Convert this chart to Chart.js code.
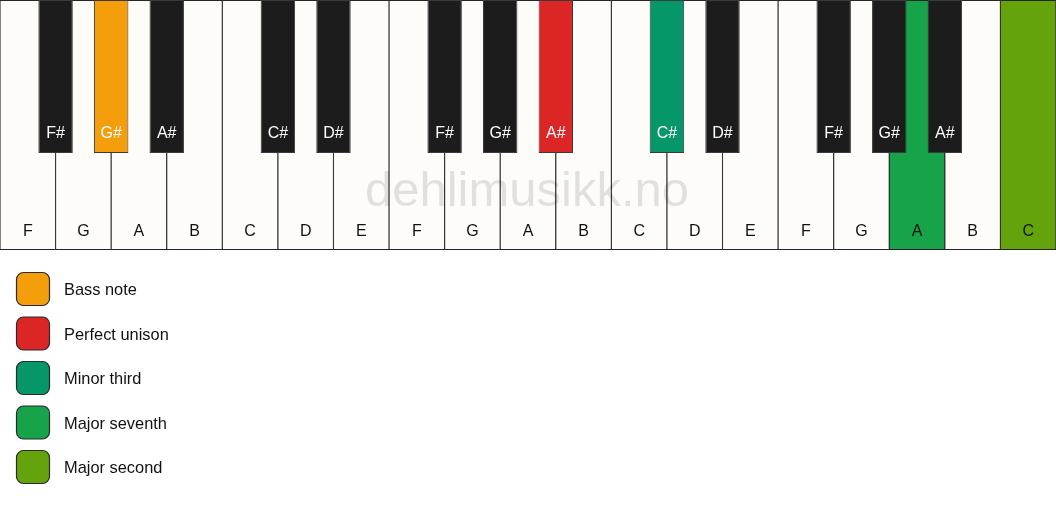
<!DOCTYPE html>
<html>
<head>
<meta charset="utf-8">
<script src="https://cdn.jsdelivr.net/npm/chart.js@4"></script>
<style>
  html, body { margin:0; padding:0; background:#ffffff; }
  #piano { display:block; }
</style>
</head>
<body>
<canvas id="piano" width="1056" height="506"></canvas>
<script>
// keys, left to right
const whiteNotes = ['F','G','A','B','C','D','E','F','G','A','B','C','D','E','F','G','A','B','C'];
const blackNotes = ['F#','G#','A#','C#','D#','F#','G#','A#','C#','D#','F#','G#','A#'];
const blackPositions = [1,2,3,5,6,8,9,10,12,13,15,16,17]; // boundary between white keys

// highlighted notes (legend order)
const intervalNames = ['Bass note','Perfect unison','Minor third','Major seventh','Major second'];
const intervalColors = ['#f59e0b','#dc2626','#059669','#16a34a','#65a30d'];
const intervalKind = ['black','black','black','white','white'];
const intervalIndex = [1,7,8,16,18];

const WHITE = '#fdfcf9', BLACK = '#1c1c1c';
const KEY_LEN = 250, BLACK_LEN = 153;

const whiteFill = whiteNotes.map((n,i)=>{
  const k = intervalKind.findIndex((t,j)=>t==='white' && intervalIndex[j]===i);
  return k>=0 ? intervalColors[k] : WHITE;
});
const blackFill = blackNotes.map((n,i)=>{
  const k = intervalKind.findIndex((t,j)=>t==='black' && intervalIndex[j]===i);
  return k>=0 ? intervalColors[k] : BLACK;
});

const font = '"Liberation Sans", Arial, sans-serif';

// key names + watermark
const keyLabels = {
  id:'keyLabels',
  afterDatasetsDraw(chart){
    const ctx = chart.ctx;
    const xw = chart.scales.xw, xb = chart.scales.xb, y = chart.scales.y;
    ctx.save();
    ctx.font = '49px ' + font;
    ctx.fillStyle = 'rgba(0,0,0,0.11)';
    ctx.textAlign = 'center';
    ctx.textBaseline = 'middle';
    ctx.fillText('dehlimusikk.no', chart.width/2 - 1, 192);

    ctx.font = '16px ' + font;
    ctx.fillStyle = '#111';
    whiteNotes.forEach((n,i)=> ctx.fillText(n, xw.getPixelForValue(i+0.5), y.getPixelForValue(232)));
    ctx.fillStyle = '#ffffff';
    blackNotes.forEach((n,i)=> ctx.fillText(n, xb.getPixelForValue(blackPositions[i]), y.getPixelForValue(134)));
    ctx.restore();
  }
};

// legend below the keyboard
const sideLegend = {
  id:'sideLegend',
  afterDraw(chart){
    const ctx = chart.ctx;
    ctx.save();
    intervalNames.forEach((name,i)=>{
      const top = 272 + i*44.5;
      ctx.beginPath();
      ctx.roundRect(16.5, top+0.5, 33, 33, 7);
      ctx.fillStyle = intervalColors[i];
      ctx.fill();
      ctx.lineWidth = 1.2;
      ctx.strokeStyle = '#2a2a2a';
      ctx.stroke();
      ctx.font = '16.4px ' + font;
      ctx.fillStyle = '#111';
      ctx.textBaseline = 'middle';
      ctx.fillText(name, 64, top + 18.5);
    });
    ctx.restore();
  }
};

new Chart(document.getElementById('piano'), {
  type:'bar',
  data:{
    datasets:[
      {
        label:'black keys',
        xAxisID:'xb',
        data: blackPositions.map(p=>({x:p, y:[0, BLACK_LEN]})),
        backgroundColor: blackFill,
        borderColor:'#3a3a3a',
        borderWidth:1,
        borderSkipped:false,
        grouped:false,
        barPercentage:0.62,
        categoryPercentage:1,
        order:0
      },
      {
        label:'white keys',
        xAxisID:'xw',
        data: whiteNotes.map((n,i)=>({x:i+0.5, y:[0, KEY_LEN]})),
        backgroundColor: whiteFill,
        borderColor:'#262626',
        borderWidth:{left:0.9, right:0.9, top:1.3, bottom:1.3},
        borderSkipped:false,
        grouped:false,
        barPercentage:1,
        categoryPercentage:1,
        order:1
      }
    ]
  },
  options:{
    responsive:false,
    animation:false,
    layout:{ padding:{ left:0, right:0, top:0, bottom:256 } },
    plugins:{ legend:{display:false}, tooltip:{enabled:false} },
    scales:{
      xw:{ type:'linear', min:0, max:19, offset:false, display:false },
      xb:{ type:'linear', min:0, max:19, offset:false, display:false },
      y:{ min:0, max:KEY_LEN, reverse:true, display:false }
    }
  },
  plugins:[keyLabels, sideLegend]
});
</script>
</body>
</html>
